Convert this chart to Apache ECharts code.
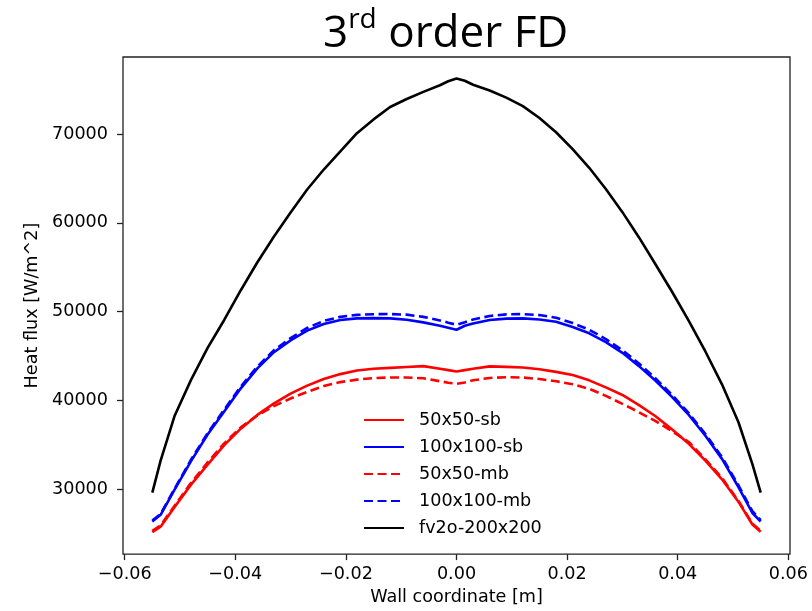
<!DOCTYPE html>
<html>
<head>
<meta charset="utf-8">
<script src="https://cdn.jsdelivr.net/npm/echarts@6/dist/echarts.min.js"></script>
<style>
  html, body { margin: 0; padding: 0; background: #fff; }
  #chart { width: 812px; height: 611px; }
</style>
</head>
<body>
<div id="chart"></div>
<script>
// Wall coordinate samples [m]
const wallCoord = [-0.055, -0.0535, -0.051, -0.048, -0.045, -0.042, -0.039, -0.036, -0.033, -0.030,
  -0.027, -0.024, -0.021, -0.018, -0.015, -0.012, -0.009, -0.006, -0.003, -0.0015, 0,
  0.0015, 0.003, 0.006, 0.009, 0.012, 0.015, 0.018, 0.021, 0.024, 0.027, 0.030,
  0.033, 0.036, 0.039, 0.042, 0.045, 0.048, 0.051, 0.0535, 0.055];

// Heat flux [W/m^2] for each run
const flux50sb = [25150, 25750, 27950, 30500, 32750, 34950, 36800, 38350, 39650, 40750,
  41650, 42400, 42950, 43350, 43550, 43650, 43750, 43850, 43550, 43400, 43250,
  43400, 43550, 43820, 43760, 43700, 43500, 43200, 42850, 42250, 41450, 40600,
  39450, 38200, 36700, 35100, 33200, 31100, 28550, 26000, 25200];

const flux100sb = [26340, 27100, 29900, 33150, 36150, 38750, 41350, 43600, 45420, 46750,
  47850, 48600, 49050, 49230, 49260, 49230, 49070, 48780, 48400, 48180, 47950,
  48400, 48650, 49050, 49200, 49230, 49100, 48850, 48250, 47550, 46550, 45350,
  43850, 42200, 40350, 38350, 36000, 33400, 30200, 27300, 26340];

const flux50mb = [25300, 25900, 28100, 30700, 33000, 35150, 36950, 38300, 39350, 40200,
  40950, 41600, 42050, 42330, 42500, 42570, 42570, 42480, 42150, 41980, 41860,
  42000, 42250, 42520, 42600, 42560, 42400, 42150, 41800, 41300, 40500, 39600,
  38650, 37650, 36500, 35300, 33350, 31250, 28650, 26100, 25300];

const flux100mb = [26450, 27200, 30000, 33300, 36300, 38950, 41550, 43800, 45650, 47000,
  48150, 48950, 49400, 49620, 49700, 49720, 49650, 49400, 49000, 48750, 48510,
  48800, 49100, 49500, 49680, 49710, 49600, 49300, 48700, 47950, 46900, 45650,
  44150, 42450, 40600, 38550, 36200, 33600, 30400, 27500, 26500];

const fluxFv2o = [29600, 33200, 38200, 42300, 45900, 49050, 52400, 55550, 58450, 61150,
  63750, 66000, 68050, 70100, 71650, 73050, 73950, 74750, 75500, 75950, 76250,
  76000, 75550, 74900, 74100, 73150, 71800, 70200, 68300, 66200, 63800, 61200,
  58350, 55300, 52200, 48950, 45500, 41800, 37500, 32800, 29600];

const seriesNames = ['50x50-sb', '100x100-sb', '50x50-mb', '100x100-mb', 'fv2o-200x200'];

// Axis ticks
const xTicks = [-0.06, -0.04, -0.02, 0.00, 0.02, 0.04, 0.06];
const yTicks = [30000, 40000, 50000, 60000, 70000];

const pairs = ys => wallCoord.map((x, i) => [x, ys[i]]);

const tickFont = { fontFamily: 'DejaVu Sans', fontSize: 17.6, color: '#000' };

function lineSeries(name, ys, color, dashed) {
  return {
    name: name,
    type: 'line',
    data: pairs(ys),
    symbol: 'none',
    animation: false,
    lineStyle: { color: color, width: 2.6, type: dashed ? [9, 4.5] : 'solid' },
    itemStyle: { color: color }
  };
}

const chart = echarts.init(document.getElementById('chart'), null, { renderer: 'canvas' });

chart.setOption({
  backgroundColor: '#fff',
  animation: false,
  title: {
    text: '{a|3}{b|rd}{a| order FD}',
    left: 318,
    top: -3,
    textStyle: {
      fontWeight: 'normal',
      rich: {
        a: { fontFamily: 'Open Sans', fontWeight: 'normal', fontSize: 44, color: '#000', lineHeight: 54, verticalAlign: 'bottom' },
        b: { fontFamily: 'Open Sans', fontWeight: 'normal', fontSize: 28, color: '#000', lineHeight: 28, verticalAlign: 'top', padding: [4, 0, 0, 0] }
      }
    }
  },
  grid: {
    left: 123, top: 57, width: 667, height: 499,
    show: true, borderColor: '#222', borderWidth: 1.3, backgroundColor: 'transparent'
  },
  legend: {
    orient: 'vertical',
    left: 363,
    top: 411,
    padding: 0,
    itemWidth: 40,
    itemHeight: 14,
    itemGap: 9,
    data: seriesNames,
    itemStyle: { opacity: 0 },
    textStyle: { fontFamily: 'DejaVu Sans', fontSize: 17.6, color: '#000', padding: [0, 0, 0, 10] }
  },
  xAxis: {
    type: 'value',
    min: -0.0603,
    max: 0.0603,
    name: 'Wall coordinate [m]',
    nameLocation: 'middle',
    nameGap: 33,
    nameTextStyle: tickFont,
    axisLine: { show: false, onZero: false },
    splitLine: { show: false },
    axisTick: { show: true, inside: false, length: 6, customValues: xTicks, lineStyle: { color: '#222', width: 1.3 } },
    axisLabel: {
      customValues: xTicks,
      margin: 11,
      ...tickFont,
      formatter: v => (v < 0 ? '\u2212' : '') + Math.abs(v).toFixed(2)
    }
  },
  yAxis: {
    type: 'value',
    min: 22670,
    max: 78680,
    name: 'Heat flux [W/m^2]',
    nameLocation: 'middle',
    nameGap: 81,
    nameTextStyle: tickFont,
    axisLine: { show: false, onZero: false },
    splitLine: { show: false },
    axisTick: { show: true, inside: false, length: 6, customValues: yTicks, lineStyle: { color: '#222', width: 1.3 } },
    axisLabel: {
      customValues: yTicks,
      margin: 15,
      ...tickFont,
      formatter: v => String(v)
    }
  },
  series: [
    lineSeries(seriesNames[0], flux50sb, '#ff0000', false),
    lineSeries(seriesNames[1], flux100sb, '#0000ff', false),
    lineSeries(seriesNames[2], flux50mb, '#ff0000', true),
    lineSeries(seriesNames[3], flux100mb, '#0000ff', true),
    lineSeries(seriesNames[4], fluxFv2o, '#000000', false)
  ]
});
</script>
</body>
</html>
